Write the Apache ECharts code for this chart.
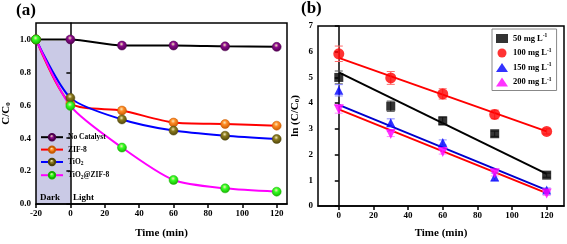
<!DOCTYPE html>
<html><head><meta charset="utf-8">
<script src="https://cdn.jsdelivr.net/npm/echarts@6/dist/echarts.min.js"></script>
<style>html,body{margin:0;padding:0;background:#fff}#c{width:567px;height:244px}</style>
</head><body><div id="c"></div>
<script>
// ---- Panel (a) data ----
const timeA = [-20, 0, 30, 60, 90, 120];
const noCatalyst = [1.0, 1.0, 0.963, 0.963, 0.958, 0.955];
const zif8 = [1.0, 0.612, 0.568, 0.495, 0.486, 0.476];
const tio2 = [1.0, 0.645, 0.514, 0.446, 0.415, 0.395];
const tio2zif8 = [1.0, 0.596, 0.343, 0.146, 0.095, 0.075];
const namesA = ['No Catalyst', 'ZIF-8', 'TiO2', 'TiO2@ZIF-8'];
const xTicksA = [-20, 0, 20, 40, 60, 80, 100, 120];
const yTicksA = [0, 0.2, 0.4, 0.6, 0.8, 1.0];

// ---- Panel (b) data ----
const timeB = [0, 30, 60, 90, 120];
const c50 = [5.0, 3.88, 3.31, 2.81, 1.2];
const c100 = [5.92, 4.98, 4.36, 3.56, 2.9];
const c150 = [4.5, 3.24, 2.47, 1.13, 0.62];
const c200 = [3.76, 2.8, 2.1, 1.27, 0.49];
const err50 = [0.25, 0.2, 0.15, 0.1, 0.08];
const err100 = [0.3, 0.25, 0.2, 0.17, 0.1];
const err150 = [0.22, 0.15, 0.1, 0.15, 0.08];
const err200 = [0.15, 0.1, 0.08, 0.1, 0.08];
const fitX = [0, 120];
const fit50 = [5.2, 1.25];
const fit100 = [5.76, 2.9];
const fit150 = [3.93, 0.62];
const fit200 = [3.76, 0.5];
const namesB = ['50 mg L-1', '100 mg L-1', '150 mg L-1', '200 mg L-1'];
const xTicksB = [0, 20, 40, 60, 80, 100, 120];
const yTicksB = [0, 1, 2, 3, 4, 5, 6, 7];

const FONT = '"Liberation Serif","Times New Roman",serif';
const pairs = (xs, ys) => xs.map((x, i) => [x, ys[i]]);
const ball = (base, dark) => ({
  type: 'radial', x: 0.45, y: 0.35, r: 0.65,
  colorStops: [{offset: 0, color: '#f6e9b8'}, {offset: 0.35, color: base}, {offset: 1, color: dark}]
});

function lineA(name, data, lineColor, base, dark) {
  return {
    type: 'line', name, xAxisIndex: 0, yAxisIndex: 0, data: pairs(timeA, data),
    smooth: 0.25, symbol: 'circle', symbolSize: 9,
    lineStyle: {color: lineColor, width: 2},
    itemStyle: {color: ball(base, dark), borderColor: dark, borderWidth: 0.5},
    emphasis: {disabled: true}
  };
}
function scatterB(name, data, symbol, color, size, rot) {
  return {
    type: 'scatter', name, xAxisIndex: 1, yAxisIndex: 1, data: pairs(timeB, data),
    symbol, symbolSize: size, symbolRotate: rot || 0, itemStyle: {color}, z: 4
  };
}
function errB(data, errs, color) {
  return {
    type: 'custom', xAxisIndex: 1, yAxisIndex: 1, z: 3,
    data: timeB.map((x, i) => [x, data[i], errs[i]]),
    renderItem: (params, api) => {
      const x = api.value(0), y = api.value(1), e = api.value(2);
      const top = api.coord([x, y + e]), bot = api.coord([x, y - e]);
      const w = 4;
      return {type: 'group', children: [
        {type: 'line', shape: {x1: top[0], y1: top[1], x2: bot[0], y2: bot[1]}, style: {stroke: color, lineWidth: 1}},
        {type: 'line', shape: {x1: top[0]-w, y1: top[1], x2: top[0]+w, y2: top[1]}, style: {stroke: color, lineWidth: 1}},
        {type: 'line', shape: {x1: bot[0]-w, y1: bot[1], x2: bot[0]+w, y2: bot[1]}, style: {stroke: color, lineWidth: 1}}
      ]};
    }
  };
}
function fitB(data, color) {
  return {
    type: 'line', xAxisIndex: 1, yAxisIndex: 1, data: pairs(fitX, data),
    showSymbol: false, symbol: 'none', lineStyle: {color, width: 2}, z: 2, emphasis: {disabled: true}
  };
}

const axisLabelBase = {color: '#000', fontFamily: FONT, fontWeight: 'bold', fontSize: 9, margin: 5};
const tickBase = {inside: false, length: 4, lineStyle: {color: '#000', width: 1.5}};
const lineBase = {show: true, lineStyle: {color: '#000', width: 1.5}};
const nameStyle = {color: '#000', fontFamily: FONT, fontWeight: 'bold', fontSize: 11,
  rich: {sub: {fontFamily: FONT, fontWeight: 'bold', fontSize: 7, verticalAlign: 'bottom', padding: [4,0,0,0]}}};

const option = {
  animation: false,
  backgroundColor: '#fff',
  grid: [
    {left: 35, top: 23, width: 252, height: 183, show: true, borderColor: '#000', borderWidth: 1.5, containLabel: false},
    {left: 318, top: 26, width: 246, height: 184, show: true, borderColor: '#000', borderWidth: 1.5, containLabel: false}
  ],
  xAxis: [
    {type: 'value', gridIndex: 0, min: -20, max: 126, name: 'Time (min)', nameLocation: 'middle', nameGap: 24,
     nameTextStyle: nameStyle, axisLine: lineBase, splitLine: {show: false},
     axisTick: Object.assign({customValues: xTicksA}, tickBase),
     axisLabel: Object.assign({customValues: xTicksA}, axisLabelBase)},
    {type: 'value', gridIndex: 1, min: -12, max: 130, name: 'Time (min)', nameLocation: 'middle', nameGap: 22,
     nameTextStyle: nameStyle, axisLine: lineBase, splitLine: {show: false},
     axisTick: Object.assign({customValues: xTicksB}, tickBase),
     axisLabel: Object.assign({customValues: xTicksB}, axisLabelBase)}
  ],
  yAxis: [
    {type: 'value', gridIndex: 0, min: 0, max: 1.1, name: 'C/C{sub|0}', nameLocation: 'middle', nameGap: 24,
     nameTextStyle: nameStyle, axisLine: lineBase, splitLine: {show: false},
     axisTick: Object.assign({customValues: yTicksA}, tickBase),
     axisLabel: Object.assign({customValues: yTicksA, formatter: v => v.toFixed(1)}, axisLabelBase)},
    {type: 'value', gridIndex: 1, min: 0, max: 7, name: 'ln (C/C{sub|0})', nameLocation: 'middle', nameGap: 17,
     nameTextStyle: nameStyle, axisLine: lineBase, splitLine: {show: false},
     axisTick: Object.assign({customValues: yTicksB}, tickBase),
     axisLabel: Object.assign({customValues: yTicksB}, axisLabelBase)}
  ],
  legend: [
    {data: namesA, orient: 'vertical', left: 40, top: 133, itemWidth: 22, itemHeight: 8, itemGap: 4, padding: 0,
     textStyle: {color: '#000', fontFamily: FONT, fontWeight: 'bold', fontSize: 7.5,
       rich: {sub: {fontFamily: FONT, fontWeight: 'bold', fontSize: 5.5, verticalAlign: 'bottom', padding: [4,0,0,0]}}},
     formatter: n => n.replace(/TiO2/g, 'TiO{sub|2}')},
    {data: namesB, orient: 'vertical', left: 492, top: 29, itemWidth: 12, itemHeight: 9, itemGap: 4.5,
     padding: [4, 5, 4, 4], borderColor: '#888', borderWidth: 1,
     textStyle: {color: '#000', fontFamily: FONT, fontWeight: 'bold', fontSize: 8.5,
       rich: {sup: {fontFamily: FONT, fontWeight: 'bold', fontSize: 5.5, verticalAlign: 'top', padding: [0,0,5,0]}}},
     formatter: n => n.replace('-1', '{sup|-1}')}
  ],
  graphic: [
    {type: 'text', z: 100, left: 16, top: 2, style: {text: '(a)', fontFamily: FONT, fontWeight: 'bold', fontSize: 17, fill: '#000'}},
    {type: 'text', z: 100, left: 301, top: 0, style: {text: '(b)', fontFamily: FONT, fontWeight: 'bold', fontSize: 17, fill: '#000'}},
    {type: 'text', z: 100, left: 40, top: 193, style: {text: 'Dark', fontFamily: FONT, fontWeight: 'bold', fontSize: 9, fill: '#000'}},
    {type: 'text', z: 100, left: 73, top: 193, style: {text: 'Light', fontFamily: FONT, fontWeight: 'bold', fontSize: 9, fill: '#000'}}
  ],
  series: [
    Object.assign(lineA(namesA[0], noCatalyst, '#000', '#8a0a8a', '#4d004d'), {
      markArea: {silent: true, z: -1, itemStyle: {color: '#cacae6'}, data: [[{coord: [-20, 0]}, {coord: [0, 0.99]}]]}
    }),
    lineA(namesA[1], zif8, '#ff0000', '#ff8c26', '#c85a00'),
    lineA(namesA[2], tio2, '#0000ff', '#8a7a1e', '#4f440a'),
    lineA(namesA[3], tio2zif8, '#ff00ff', '#33ff22', '#16b000'),
    fitB(fit50, '#000'),
    fitB(fit100, '#ff0000'),
    fitB(fit150, '#0000cc'),
    fitB(fit200, '#ff0000'),
    errB(c50, err50, '#555'),
    errB(c100, err100, '#ff6a6a'),
    errB(c150, err150, '#8a8aff'),
    errB(c200, err200, '#ff88ff'),
    scatterB(namesB[0], c50, 'rect', '#000', 9),
    scatterB(namesB[1], c100, 'circle', '#ff0000', 11),
    scatterB(namesB[2], c150, 'triangle', '#0000ff', 9),
    scatterB(namesB[3], c200, 'triangle', '#ff00ff', 10, 180)
  ]
};
const chart = echarts.init(document.getElementById('c'), null, {renderer: 'canvas'});
chart.setOption(option);
</script>
</body></html>
